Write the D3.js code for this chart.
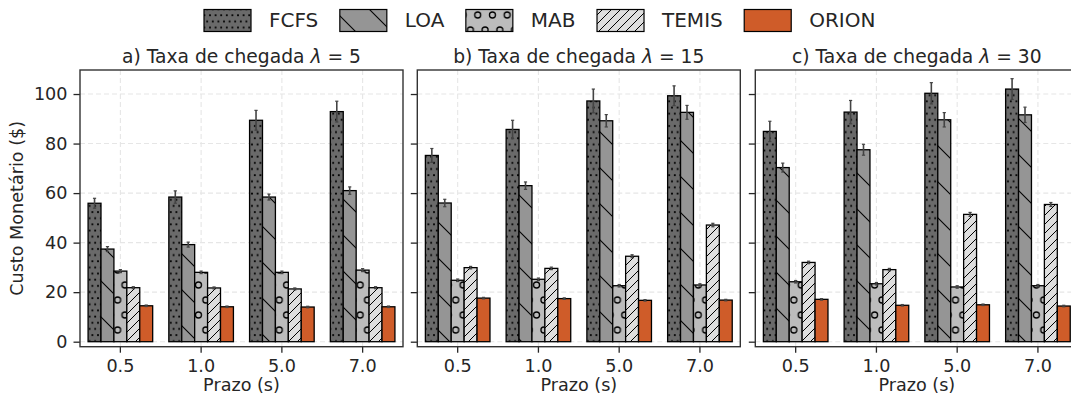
<!DOCTYPE html>
<html><head><meta charset="utf-8">
<script src="https://cdn.jsdelivr.net/npm/d3@7"></script>
<style>
html,body{margin:0;padding:0;background:#fff;}
svg{display:block;font-family:"DejaVu Sans",sans-serif;}
</style></head>
<body><svg id="chart" width="1071" height="403"></svg>
<script>
// ---------------- data ----------------
const categories = ["0.5", "1.0", "5.0", "7.0"];
const methods = ["FCFS", "LOA", "MAB", "TEMIS", "ORION"];
const lambdas = [5, 15, 30];
const panelLetters = ["a)", "b)", "c)"];
const yTicks = [0, 20, 40, 60, 80, 100];

// mean values per panel: rows = methods, columns = categories
const meansL5 = [
  [55.9, 58.4, 89.4, 92.9],
  [37.4, 39.2, 58.4, 61.0],
  [28.5, 28.0, 28.0, 28.9],
  [21.8, 21.7, 21.3, 21.8],
  [14.5, 14.1, 14.0, 14.1]
];
const errsL5 = [
  [2.0, 2.5, 4.0, 4.2],
  [1.0, 1.0, 1.2, 1.5],
  [0.6, 0.5, 0.5, 0.6],
  [0.4, 0.4, 0.4, 0.4],
  [0.3, 0.3, 0.3, 0.3]
];
const meansL15 = [
  [75.2, 85.7, 97.2, 99.3],
  [56.0, 63.0, 89.2, 92.6],
  [24.8, 25.2, 22.6, 22.9],
  [29.9, 29.6, 34.5, 47.1],
  [17.6, 17.4, 16.7, 16.8]
];
const errsL15 = [
  [2.8, 3.7, 4.8, 4.0],
  [1.5, 1.5, 2.5, 2.8],
  [0.5, 0.5, 0.5, 0.5],
  [0.5, 0.5, 0.6, 0.7],
  [0.3, 0.3, 0.3, 0.3]
];
const meansL30 = [
  [84.9, 92.7, 100.3, 102.0],
  [70.3, 77.5, 89.6, 91.6],
  [24.2, 23.4, 22.1, 22.6],
  [32.0, 29.1, 51.4, 55.4],
  [17.1, 14.7, 14.9, 14.4]
];
const errsL30 = [
  [4.1, 4.7, 4.3, 4.2],
  [1.8, 2.2, 2.9, 3.1],
  [0.5, 0.5, 0.5, 0.5],
  [0.5, 0.5, 0.8, 0.8],
  [0.3, 0.3, 0.3, 0.3]
];

// ---------------- styles ----------------
const colors = ["#6a6a6a", "#959595", "#bcbcbc", "#dedede", "#cf5c29"];
const textColor = "#262626";
const panelLefts = [80, 417.3, 755.3];
const panelW = 323, plotTop = 70, plotBottom = 346.7;
const panels = [
  {means: meansL5, errs: errsL5},
  {means: meansL15, errs: errsL15},
  {means: meansL30, errs: errsL30}
];

const svg = d3.select("#chart");
const defs = svg.append("defs");

function pat(id, w, h, bg) {
  const p = defs.append("pattern").attr("id", id).attr("patternUnits", "userSpaceOnUse")
    .attr("width", w).attr("height", h);
  p.append("rect").attr("width", w).attr("height", h).attr("fill", bg);
  return p;
}
// FCFS: dots (staggered)
{
  const p = pat("h0", 11.2, 12.3, colors[0]);
  [[2.8, 3], [8.4, 3], [0, 9.15], [5.6, 9.15], [11.2, 9.15]].forEach(c =>
    p.append("circle").attr("cx", c[0]).attr("cy", c[1]).attr("r", 1.0).attr("fill", "#000"));
}
// LOA: sparse backslash
{
  const s = 36;
  const p = pat("h1", s, s, colors[1]);
  [[0, 0, s, s], [-s / 2, s / 2, s / 2, s * 1.5], [s / 2, -s / 2, s * 1.5, s / 2]].forEach(l =>
    p.append("line").attr("x1", l[0]).attr("y1", l[1]).attr("x2", l[2]).attr("y2", l[3])
      .attr("stroke", "#000").attr("stroke-width", 1.1));
}
// MAB: circles
{
  const w = 14.7, h = 30;
  const p = pat("h2", w, h, colors[2]);
  [[0, 0], [w, 0], [0, h], [w, h], [w / 2, h / 2]].forEach(c =>
    p.append("circle").attr("cx", c[0]).attr("cy", c[1]).attr("r", 3)
      .attr("fill", "none").attr("stroke", "#000").attr("stroke-width", 1.3));
}
// TEMIS: dense slash
{
  const s = 9;
  const p = pat("h3", s, s, colors[3]);
  [[0, s, s, 0], [-s / 2, s / 2, s / 2, -s / 2], [s / 2, s * 1.5, s * 1.5, s / 2]].forEach(l =>
    p.append("line").attr("x1", l[0]).attr("y1", l[1]).attr("x2", l[2]).attr("y2", l[3])
      .attr("stroke", "#000").attr("stroke-width", 1));
}
const fills = ["url(#h0)", "url(#h1)", "url(#h2)", "url(#h3)", colors[4]];

const y = d3.scaleLinear().domain([-2.02, 109.7]).range([plotBottom, plotTop]);

panels.forEach((pd, pi) => {
  const left = panelLefts[pi];
  const x = d3.scaleBand().domain(categories).range([left, left + panelW]).paddingInner(0).paddingOuter(0);
  const bw = x.bandwidth();
  const xs = d3.scaleBand().domain(methods).range([-0.4 * bw, 0.4 * bw]);
  const g = svg.append("g");

  g.selectAll(".hg").data(yTicks).join("line")
    .attr("x1", left).attr("x2", left + panelW)
    .attr("y1", d => y(d)).attr("y2", d => y(d))
    .attr("stroke", "#e6e6e6").attr("stroke-width", 1.1).attr("stroke-dasharray", "5,3");
  g.selectAll(".vg").data(categories).join("line")
    .attr("x1", d => x(d) + bw / 2).attr("x2", d => x(d) + bw / 2)
    .attr("y1", plotTop).attr("y2", plotBottom)
    .attr("stroke", "#e6e6e6").attr("stroke-width", 1.1).attr("stroke-dasharray", "5,3");

  methods.forEach((m, mi) => {
    categories.forEach((c, ci) => {
      const v = pd.means[mi][ci];
      const bx = x(c) + bw / 2 + xs(m);
      g.append("rect")
        .attr("x", bx).attr("width", xs.bandwidth())
        .attr("y", y(v)).attr("height", y(0) - y(v))
        .attr("fill", fills[mi]).attr("stroke", "#000").attr("stroke-width", 1.3);
    });
  });
  methods.forEach((m, mi) => {
    categories.forEach((c, ci) => {
      const v = pd.means[mi][ci], e = pd.errs[mi][ci];
      const cx = x(c) + bw / 2 + xs(m) + xs.bandwidth() / 2;
      g.append("line").attr("x1", cx).attr("x2", cx).attr("y1", y(v - e)).attr("y2", y(v + e))
        .attr("stroke", "#444").attr("stroke-width", 1.6);
      [v - e, v + e].forEach(t => g.append("line").attr("x1", cx - 1.6).attr("x2", cx + 1.6)
        .attr("y1", y(t)).attr("y2", y(t)).attr("stroke", "#444").attr("stroke-width", 1.2));
    });
  });

  const ya = d3.axisLeft(y).tickValues(yTicks).tickSize(6.5).tickPadding(6);
  if (pi > 0) ya.tickFormat("");
  const yg = g.append("g").attr("transform", `translate(${left},0)`).call(ya);
  const xa = d3.axisBottom(x).tickSize(6).tickPadding(7);
  const xg = g.append("g").attr("transform", `translate(0,${plotBottom})`).call(xa);
  [yg, xg].forEach(a => {
    a.select(".domain").remove();
    a.selectAll(".tick line").attr("stroke", textColor).attr("stroke-width", 1.3);
    a.selectAll(".tick text").attr("fill", textColor).style("font-size", "17.6px")
      .style("font-family", "DejaVu Sans");
  });

  g.append("rect").attr("x", left).attr("y", plotTop).attr("width", panelW).attr("height", plotBottom - plotTop)
    .attr("fill", "none").attr("stroke", "#333").attr("stroke-width", 1.4);

  const t = g.append("text").attr("x", left + panelW / 2).attr("y", 63)
    .attr("text-anchor", "middle").attr("fill", textColor).style("font-size", "18.7px");
  t.append("tspan").text(panelLetters[pi] + " Taxa de chegada ");
  t.append("tspan").style("font-style", "italic").text("λ");
  t.append("tspan").text(" = " + lambdas[pi]);

  g.append("text").attr("x", left + panelW / 2).attr("y", 391)
    .attr("text-anchor", "middle").attr("fill", textColor).style("font-size", "17.6px").text("Prazo (s)");
});

svg.append("text").attr("transform", `translate(23,${(plotTop + plotBottom) / 2}) rotate(-90)`)
  .attr("text-anchor", "middle").attr("fill", textColor).style("font-size", "17.6px")
  .text("Custo Monetário ($)");

const lg = svg.append("g");
let lx = 204;
methods.forEach((m, mi) => {
  lg.append("rect").attr("x", lx).attr("y", 9.5).attr("width", 47).attr("height", 22)
    .attr("fill", fills[mi]).attr("stroke", "#000").attr("stroke-width", 1.2);
  const tx = lg.append("text").attr("x", lx + 47 + 18).attr("y", 27.3).attr("fill", textColor)
    .style("font-size", "20px").text(m);
  lx = lx + 47 + 18 + tx.node().getComputedTextLength() + 21.5;
});
</script>
</body></html>
